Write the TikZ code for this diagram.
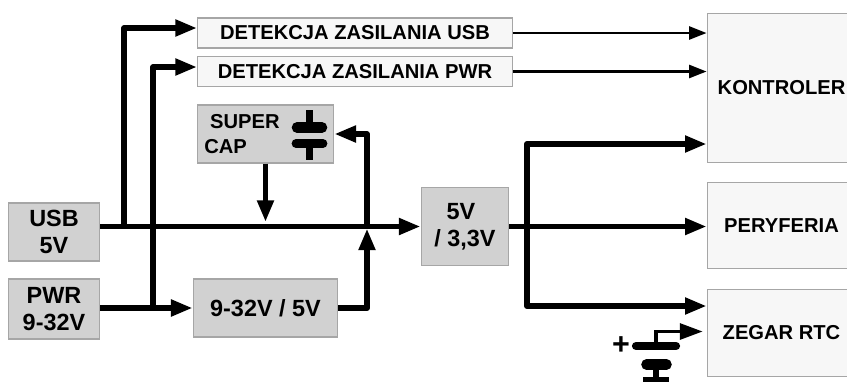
\documentclass[tikz,border=0pt]{standalone}
\usepackage{fontspec}
\setmainfont{Liberation Sans}
\usetikzlibrary{arrows.meta}
\tikzset{
  x=0.03cm,y=-0.03cm,
  boxbase/.style={draw=black!35,line width=1.1pt,inner sep=0pt,align=center,text=black},
  graybox/.style={boxbase,fill=black!18,font=\bfseries\fontsize{20}{23}\selectfont},
  lightbox/.style={boxbase,fill=black!3,font=\bfseries\fontsize{17.2}{20}\selectfont},
  capbox/.style={boxbase,fill=black!18,align=left,font=\bfseries\fontsize{17.2}{22}\selectfont},
  size/.style 2 args={minimum width=#1*0.85pt,minimum height=#2*0.85pt},
  thinarrow/.style={line width=2.5pt,-{Triangle[length=15pt,width=11pt]},line join=round},
  midarrow/.style={line width=4.8pt,-{Triangle[length=18.5pt,width=13.5pt]},line join=round},
  bigarrow/.style={line width=5.2pt,-{Triangle[length=18.5pt,width=13.5pt]},line join=round},
  rtcarrow/.style={line width=3pt,-{Triangle[length=19.5pt,width=13.5pt]},line join=miter},
  plate/.style={line width=7pt,line cap=round},
  lead/.style={line width=4pt},
  plusmark/.style={inner sep=0pt,font=\bfseries\fontsize{26}{26}\selectfont},
}
\begin{document}
\begin{tikzpicture}
\useasboundingbox (0,0) rectangle (847,381);
% boxes
\node[graybox,size={92}{58}] (usb) at (54,232) {USB\\5V};
\node[graybox,size={92}{60}] (pwr) at (54,309) {PWR\\9-32V};
\node[lightbox,size={316}{30}] (detusb) at (355,33) {DETEKCJA ZASILANIA USB};
\node[lightbox,size={316}{30}] (detpwr) at (355,71.5) {DETEKCJA ZASILANIA PWR};
\node[capbox,size={137}{58},text width=104.5pt] (cap) at (265.5,134) {\hspace*{5pt}SUPER\\CAP};
\node[graybox,size={145}{58}] (reg) at (265.5,308) {9-32V / 5V};
\node[graybox,size={88}{79}] (conv) at (465,226.5) {5V\hspace*{7pt}\\/ 3,3V};
\node[lightbox,size={149}{150}] (ctrl) at (781.5,88) {KONTROLER};
\node[lightbox,size={149}{87}] (per) at (781.5,225.5) {PERYFERIA};
\node[lightbox,size={149}{87}] (rtc) at (781.5,333) {ZEGAR RTC};
% junction and bend points
\coordinate (ju) at (124,226.5);
\coordinate (bu) at (124,28);
\coordinate (jp) at (153,308);
\coordinate (bp) at (153,67);
\coordinate (jc) at (265.5,222);
\coordinate (jr) at (367,308);
\coordinate (tr) at (367,228.5);
\coordinate (jq) at (367,226.5);
\coordinate (bq) at (367,134);
\coordinate (jo) at (527,226.5);
\coordinate (bo) at (527,144);
\coordinate (bd) at (527,306);
\coordinate (brt) at (656,331.5);
% connectors
\draw[midarrow] (usb.east |- conv.west) -- (conv.west);
\draw[midarrow] (ju) -- (bu) -- (bu -| detusb.west);
\draw[midarrow] (jp) -- (bp) -- (bp -| detpwr.west);
\draw[bigarrow] (pwr.east |- reg.west) -- (reg.west);
\draw[midarrow] (cap.south) -- (jc);
\draw[bigarrow] (reg.east) -- (jr) -- (tr);
\draw[midarrow] (jq) -- (bq) -- (cap.east);
\draw[midarrow] (conv.east) -- (conv.east -| ctrl.west);
\draw[bigarrow] (jo) -- (bo) -- (bo -| ctrl.west);
\draw[bigarrow] (jo) -- (bd) -- (bd -| rtc.west);
\draw[thinarrow] (detusb.east) -- (detusb.east -| ctrl.west);
\draw[thinarrow] (detpwr.east) -- (detpwr.east -| ctrl.west);
% supercapacitor symbol
\coordinate (sa) at (297,127.5);
\coordinate (sb) at (322,127.5);
\coordinate (sc) at (296,143.5);
\coordinate (sd) at (323,143.5);
\draw[plate,line width=9pt] (sa) -- (sb);
\draw[plate,line width=7.5pt] (sc) -- (sd);
\draw[lead,line width=5.5pt] (309.5,110) -- (309.5,127);
\draw[lead,line width=5.5pt] (309.5,143) -- (309.5,160);
% battery symbol
\node[plusmark] (plus) at (621,346) {+};
\coordinate (ba) at (636,346);
\coordinate (bb) at (676,346);
\coordinate (bc) at (646.5,364.5);
\coordinate (be) at (666.5,364.5);
\draw[plate] (ba) -- (bb);
\draw[plate,line width=9pt] (bc) -- (be);
\draw[rtcarrow,shorten >=3.4pt] (656,346) -- (brt) -- (brt -| rtc.west);
\draw[lead,line width=4.5pt] (656,364) -- (656,380);
\draw[lead,line width=5pt] (643,380) -- (669,380);
\end{tikzpicture}
\end{document}
